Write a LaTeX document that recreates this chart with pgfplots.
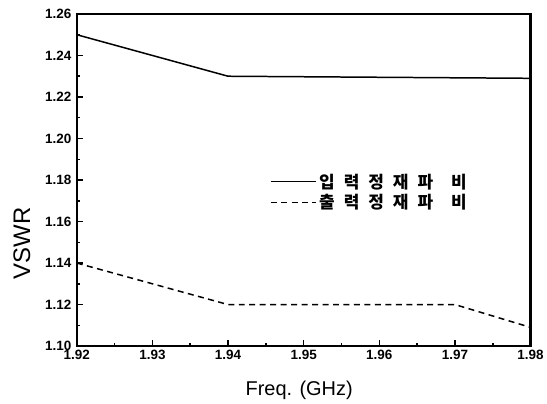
\documentclass[border=0pt]{standalone}
\usepackage{pgfplots}
\pgfplotsset{compat=1.18}
\usepackage{fontspec}
\setmainfont{Liberation Sans}
\newfontfamily\kr{Noto Sans CJK KR}
\newcommand\ks{\hspace{9pt}}
\begin{document}
\begin{tikzpicture}
\begin{axis}[scale only axis,width=455pt,height=333pt,
  xmin=1.92,xmax=1.98,ymin=1.10,ymax=1.26,
  xtick={1.92,1.93,...,1.98},ytick={1.10,1.12,...,1.26},
  minor x tick num=1,minor y tick num=1,
  xticklabel style={/pgf/number format/.cd,fixed,fixed zerofill,precision=2},
  yticklabel style={/pgf/number format/.cd,fixed,fixed zerofill,precision=2},
  /pgf/number format/assume math mode=true,
  tick label style={font=\fontsize{13.5}{15}\selectfont\bfseries},
  xticklabel shift=1pt,yticklabel shift=2pt,
  tick align=inside,xtick pos=bottom,ytick pos=left,
  major tick length=6pt,minor tick length=3pt,
  every tick/.style={black,line width=1.5pt},
  axis line style={line width=2.4pt},
  xlabel={Freq. (GHz)},ylabel={VSWR},
  xlabel style={font=\fontsize{20}{22}\selectfont,at={(rel axis cs:0.49,0)},anchor=base,yshift=-50pt},
  ylabel style={font=\fontsize{24}{26}\selectfont,at={(rel axis cs:0,0.31)},anchor=center,yshift=55pt},
  legend style={draw=none,fill=none,at={(axis cs:1.9455,1.1742)},anchor=west,
    font=\fontsize{17}{19}\selectfont\kr\bfseries,row sep=1pt,inner sep=0pt},
  legend cell align=left,
  legend image code/.code={\draw[#1] (0pt,0pt) -- (46pt,0pt);},
  clip=false]
\addplot[black,line width=1.5pt] coordinates {(1.92,1.250) (1.94,1.230) (1.98,1.229)};
\addlegendentry{입\ks 력\ks 정\ks 재\ks 파\ks\ks 비}
\addplot[black,line width=1.5pt,dash pattern=on 6pt off 4.5pt] coordinates {(1.92,1.140) (1.94,1.120) (1.97,1.120) (1.98,1.109)};
\addlegendentry{출\ks 력\ks 정\ks 재\ks 파\ks\ks 비}
\path (rel axis cs:0,0) ++(-77pt,-56pt) (rel axis cs:1,1) ++(15pt,14pt);
\end{axis}
\end{tikzpicture}
\end{document}
